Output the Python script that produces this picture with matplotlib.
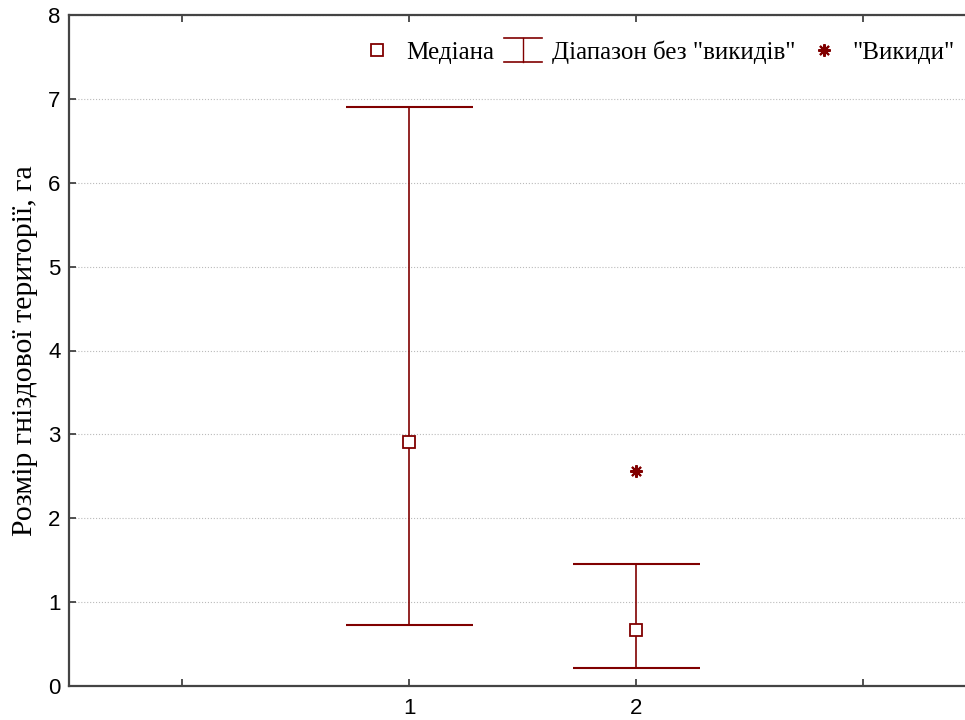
import matplotlib.pyplot as plt
from matplotlib.lines import Line2D
from matplotlib.legend_handler import HandlerBase

# Data
groups = [1, 2]
medians = [2.91, 0.67]
whisk_low = [0.73, 0.21]
whisk_high = [6.90, 1.45]
outlier_x = [2]
outlier_y = [2.56]

red = '#800000'
cap_half = 0.28


class WhiskerHandler(HandlerBase):
    def create_artists(self, legend, orig_handle, xd, yd, width, height, fontsize, trans):
        mid_y = height / 2 - yd
        top = mid_y + 8.5
        bot = mid_y - 8.5
        mid = width / 2
        lines = [
            Line2D([0, width], [top, top], color=red, lw=1.2),
            Line2D([0, width], [bot, bot], color=red, lw=1.2),
            Line2D([mid, mid], [bot, top], color=red, lw=1.0),
        ]
        for ln in lines:
            ln.set_transform(trans)
        return lines


fig = plt.figure(figsize=(9.65, 7.2), dpi=100)
ax = fig.add_axes([69 / 965, 34 / 720, (976.5 - 69) / 965, (686 - 15) / 720])

# whiskers
ax.vlines(groups, whisk_low, whisk_high, color=red, lw=1.2, zorder=3)
for g, lo, hi in zip(groups, whisk_low, whisk_high):
    ax.hlines([lo, hi], g - cap_half, g + cap_half, color=red, lw=1.5, zorder=3)

ax.plot(groups, medians, ls='none', marker='s', ms=8, mfc='white', mec=red, mew=1.3, zorder=4)
ax.plot(outlier_x, outlier_y, ls='none', marker=(8, 2, 0), ms=9, mec=red, mew=1.5, zorder=4)

ax.set_xlim(-0.5, 3.5)
ax.set_ylim(0, 8)
ax.set_xticks([0, 1, 2, 3])
ax.set_xticklabels(['', '1', '2', ''])
ax.set_yticks(range(0, 9))
ax.tick_params(direction='in', length=5, width=1.2, labelsize=16, top=True, colors='#333333',
               labelcolor='black')
for lab in ax.get_xticklabels() + ax.get_yticklabels():
    lab.set_fontfamily('Liberation Sans')
ax.tick_params(axis='x', pad=9)
ax.tick_params(axis='y', pad=6)
ax.grid(axis='y', color='#bbbbbb', ls=':', lw=0.8)
for s in ['left', 'bottom', 'top']:
    ax.spines[s].set_linewidth(1.6)
    ax.spines[s].set_color('#444444')

ax.set_ylabel('Розмір гніздової території, га', fontfamily='Liberation Serif', fontsize=21.5, labelpad=7)

h_med = Line2D([], [], ls='none', marker='s', ms=8, mfc='white', mec=red, mew=1.3)
h_wh = Line2D([], [], color=red)
h_out = Line2D([], [], ls='none', marker=(8, 2, 0), ms=9, mec=red, mew=1.5)
leg = fig.legend([h_med, h_wh, h_out], ['Медіана', 'Діапазон без "викидів"', '"Викиди"'],
                 handler_map={h_wh: WhiskerHandler()}, ncol=3, frameon=False,
                 loc='center left', bbox_to_anchor=(346 / 965, 1 - 52 / 720),
                 prop={'family': 'Liberation Serif', 'size': 18}, borderpad=0,
                 handlelength=1.5, handletextpad=0.4, columnspacing=0.4)

fig.savefig('out.png', dpi=100)
